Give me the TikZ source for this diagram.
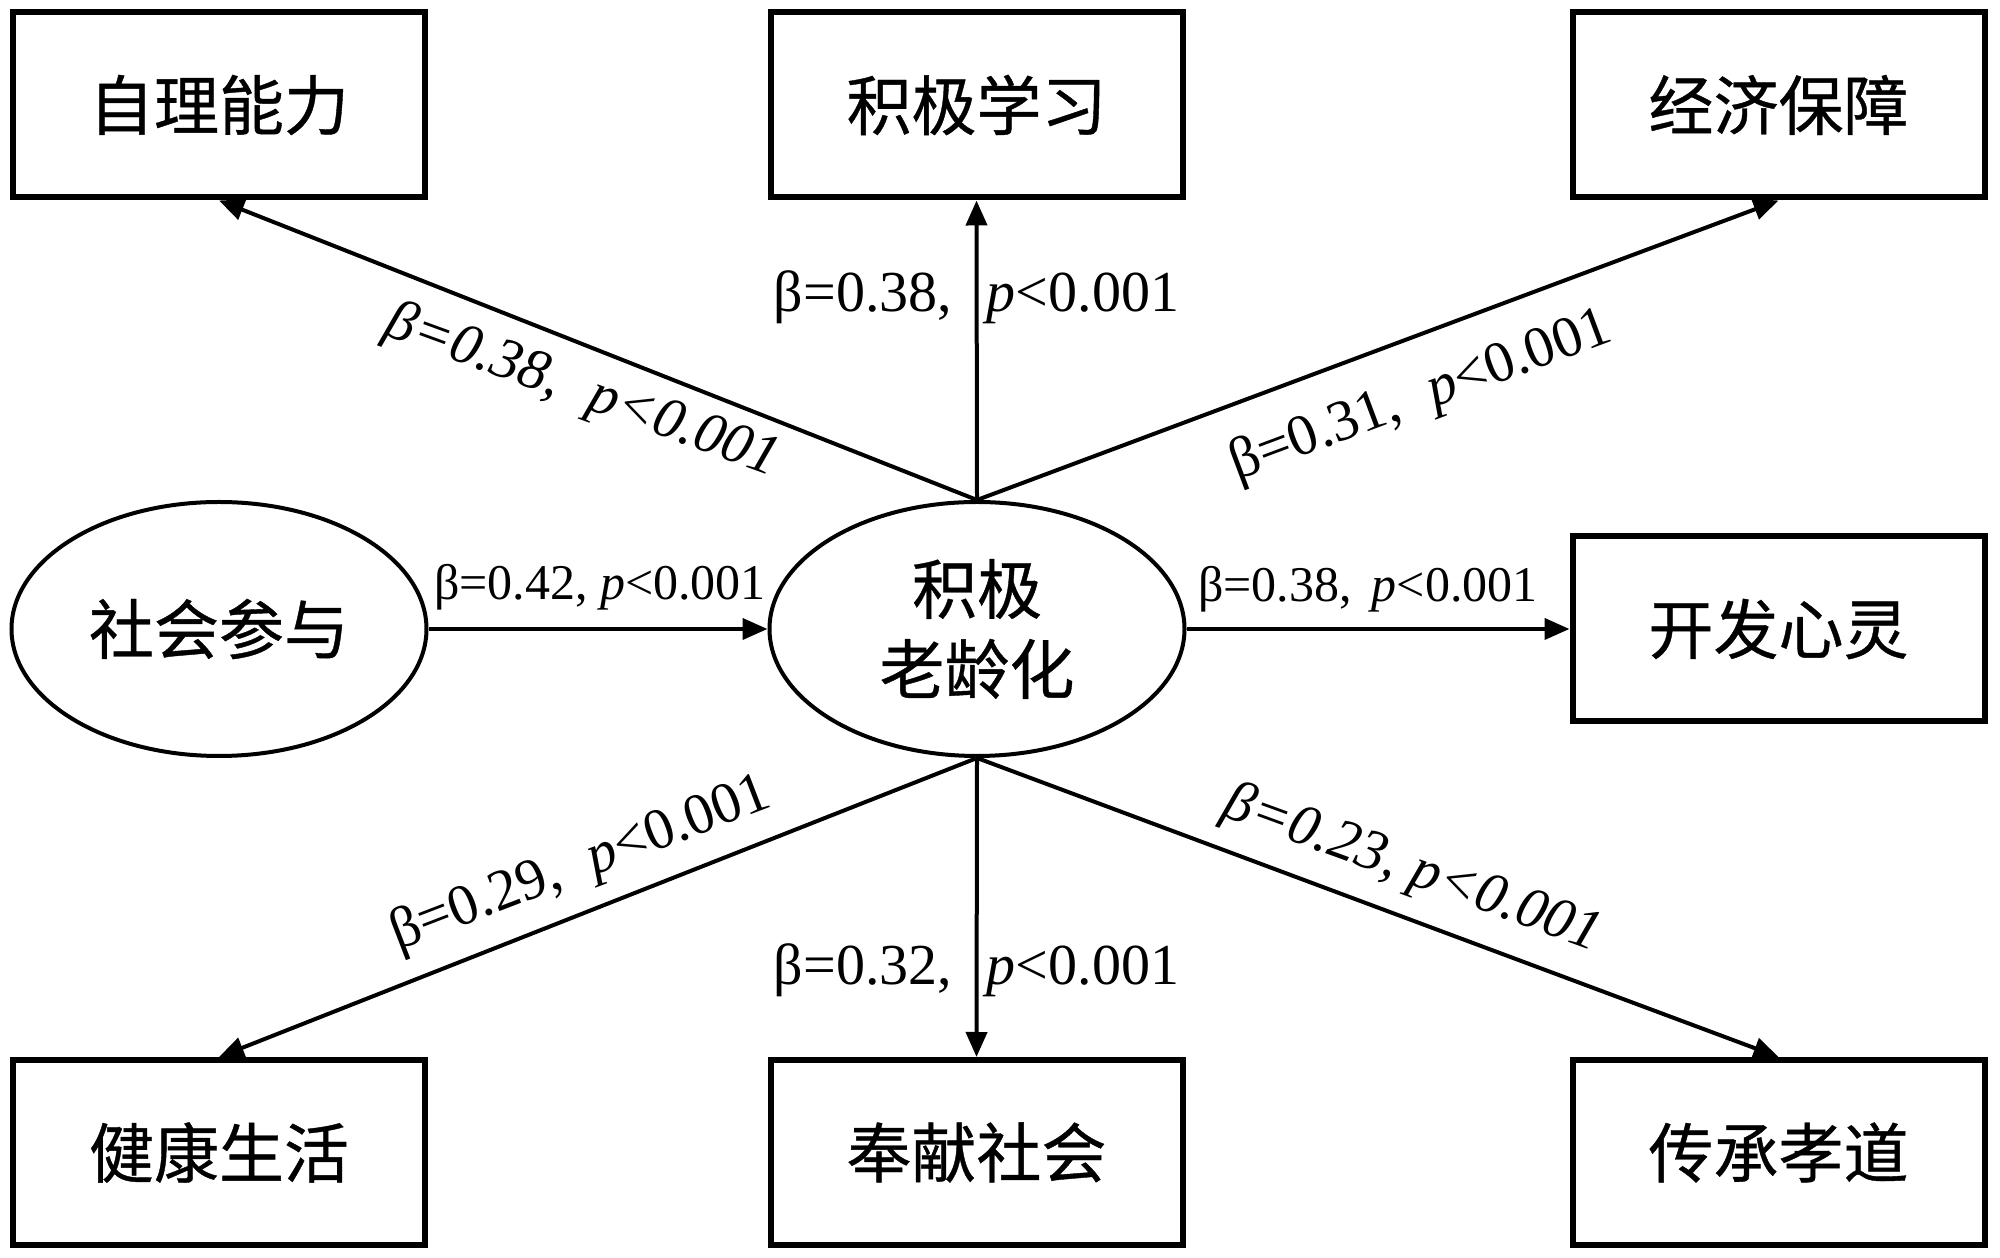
\documentclass[tikz,border=0pt]{standalone}
\usepackage{fontspec}
\setmainfont{Liberation Serif}
\newfontfamily\cjk[FakeBold=0.6]{Noto Sans CJK SC}
\usetikzlibrary{arrows.meta,shapes.geometric}
\begin{document}
\begin{tikzpicture}[x=1pt,y=1pt,
  box/.style={draw, line width=6pt, minimum width=412pt, minimum height=185pt, inner sep=0pt, font=\cjk\fontsize{65}{80}\selectfont},
  oval/.style={draw, ellipse, line width=4pt, minimum width=415pt, minimum height=254pt, inner sep=0pt, align=center, font=\cjk\fontsize{65}{80}\selectfont},
  conn/.style={line width=4pt, -{Triangle[length=25pt,width=21pt]}},
  lab/.style={font=\fontsize{58}{60}\selectfont, inner sep=0pt},
  hlab/.style={font=\fontsize{50}{52}\selectfont, inner sep=0pt}
]
\useasboundingbox (0,0) rectangle (2000,1258);
\fill[white] (0,0) rectangle (2000,1258);

\node[box] (zl) at (219,1153) {自理能力};
\node[box] (jx) at (976.5,1153) {积极学习};
\node[box] (jj) at (1778.5,1153) {经济保障};
\node[oval] (sh) at (219,629) {社会参与};
\node[oval] (ag) at (977,629) {积极\\老龄化};
\node[box] (kf) at (1778.5,629) {开发心灵};
\node[box] (jk) at (219,105.5) {健康生活};
\node[box] (fx) at (976.5,105.5) {奉献社会};
\node[box] (cc) at (1778.5,105.5) {传承孝道};

\draw[conn] (ag.north) -- (zl.south);
\draw[conn] (ag.north) -- (jx.south);
\draw[conn] (ag.north) -- (jj.south);
\draw[conn] (sh.east) -- (ag.west);
\draw[conn] (ag.east) -- (kf.west);
\draw[conn] (ag.south) -- (jk.north);
\draw[conn] (ag.south) -- (fx.north);
\draw[conn] (ag.south) -- (cc.north);

\node[lab, rotate=-20] (l1) at (582,866) {\itshape β=0.38,\hspace{0.55em}p<0.001};
\node[lab, anchor=base] (l2) at (976.5,946) {β=0.38,\hspace{0.6em}\textit{p}<0.001};
\node[lab, rotate=20.5] (l3) at (1421,861) {β=0.31,\hspace{0.55em}\textit{p}<0.001};
\node[hlab, anchor=base] (l4) at (600,658) {β=0.42, \textit{p}<0.001};
\node[hlab, anchor=base] (l5) at (1368,656) {β=0.38,\hspace{0.4em}\textit{p}<0.001};
\node[lab, rotate=21] (l6) at (581,393) {β=0.29,\hspace{0.55em}\textit{p}<0.001};
\node[lab, anchor=base] (l7) at (976.5,273) {β=0.32,\hspace{0.6em}\textit{p}<0.001};
\node[lab, rotate=-20] (l8) at (1412,388) {\itshape β=0.23, p<0.001};
\end{tikzpicture}
\end{document}
